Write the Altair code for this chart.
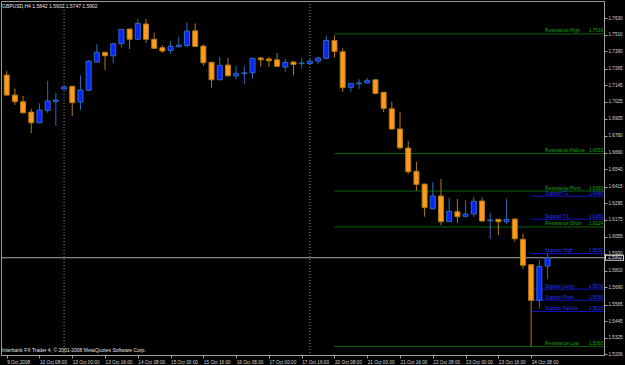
import altair as alt
import pandas as pd

# ---------------- data ----------------
symbol_title = "GBPUSD,H4  1.5842 1.5932 1.5747 1.5902"
copyright_text = "Interbank FX Trader 4, \u00a9 2001-2008 MetaQuotes Software Corp."

opens = [1.7219, 1.7075, 1.7027, 1.6952, 1.6875, 1.6965, 1.7028, 1.7118, 1.7138, 1.7025,
         1.7109, 1.7313, 1.7383, 1.7358, 1.7445, 1.7551, 1.7477, 1.7587, 1.7477, 1.7416,
         1.7397, 1.7423, 1.7433, 1.7538, 1.7428, 1.7311, 1.7185, 1.7291, 1.7214, 1.7230,
         1.7236, 1.7342, 1.7335, 1.7329, 1.7277, 1.7313, 1.7301, 1.7303, 1.7320, 1.7340,
         1.7468, 1.7387, 1.7131, 1.7156, 1.7162, 1.7185, 1.7095, 1.6976, 1.6830, 1.6693,
         1.6525, 1.6433, 1.6255, 1.6347, 1.6162, 1.6234, 1.6201, 1.6217, 1.6311, 1.6169,
         1.6179, 1.6162, 1.6181, 1.6035, 1.5852, 1.5595, 1.5842]
highs = [1.7248, 1.7123, 1.7068, 1.6976, 1.7015, 1.7178, 1.7092, 1.7140, 1.7140, 1.7217,
         1.7327, 1.7440, 1.7385, 1.7446, 1.7551, 1.7553, 1.7625, 1.7623, 1.7524, 1.7435,
         1.7464, 1.7495, 1.7599, 1.7592, 1.7440, 1.7313, 1.7349, 1.7342, 1.7284, 1.7284,
         1.7342, 1.7349, 1.7351, 1.7378, 1.7337, 1.7322, 1.7340, 1.7335, 1.7351, 1.7505,
         1.7505, 1.7412, 1.7161, 1.7188, 1.7198, 1.7187, 1.7097, 1.7027, 1.6950, 1.6743,
         1.6594, 1.6436, 1.6446, 1.6470, 1.6335, 1.6325, 1.6318, 1.6342, 1.6338, 1.6227,
         1.6181, 1.6325, 1.6185, 1.6078, 1.5857, 1.5886, 1.5932]
lows = [1.7068, 1.7003, 1.6943, 1.6801, 1.6871, 1.6947, 1.6852, 1.7111, 1.6924, 1.6967,
        1.7104, 1.7309, 1.7255, 1.7304, 1.7419, 1.7407, 1.7471, 1.7450, 1.7410, 1.7380,
        1.7373, 1.7421, 1.7419, 1.7425, 1.7286, 1.7128, 1.7183, 1.7207, 1.7190, 1.7154,
        1.7193, 1.7279, 1.7277, 1.7279, 1.7243, 1.7217, 1.7267, 1.7296, 1.7296, 1.7332,
        1.7344, 1.7097, 1.7099, 1.7120, 1.7158, 1.7080, 1.6952, 1.6828, 1.6681, 1.6506,
        1.6385, 1.6198, 1.6251, 1.6136, 1.6160, 1.6152, 1.6193, 1.6198, 1.6163, 1.6037,
        1.6066, 1.6143, 1.6018, 1.5823, 1.5263, 1.5535, 1.5747]
closes = [1.7075, 1.7027, 1.6947, 1.6875, 1.6967, 1.7032, 1.7039, 1.7133, 1.7020, 1.7111,
          1.7320, 1.7383, 1.7358, 1.7445, 1.7549, 1.7477, 1.7592, 1.7477, 1.7412, 1.7392,
          1.7426, 1.7435, 1.7536, 1.7426, 1.7308, 1.7185, 1.7289, 1.7214, 1.7231, 1.7235,
          1.7340, 1.7329, 1.7322, 1.7282, 1.7311, 1.7296, 1.7306, 1.7320, 1.7342, 1.7469,
          1.7390, 1.7128, 1.7159, 1.7162, 1.7181, 1.7087, 1.6979, 1.6830, 1.6695, 1.6522,
          1.6431, 1.6263, 1.6347, 1.6162, 1.6237, 1.6198, 1.6217, 1.6309, 1.6167, 1.6174,
          1.6162, 1.6179, 1.6039, 1.5848, 1.5595, 1.5840, 1.5902]

x_labels = ["9 Oct 2008", "10 Oct 08:00", "13 Oct 00:00", "13 Oct 16:00", "14 Oct 08:00",
            "15 Oct 00:00", "15 Oct 16:00", "16 Oct 08:00", "17 Oct 00:00", "17 Oct 16:00",
            "20 Oct 08:00", "21 Oct 00:00", "21 Oct 16:00", "22 Oct 08:00", "23 Oct 00:00",
            "23 Oct 16:00", "24 Oct 08:00"]
label_every = 4

y_ticks = [1.7630, 1.7510, 1.7390, 1.7265, 1.7145, 1.7025, 1.6905, 1.6780, 1.6660, 1.6540,
           1.6415, 1.6295, 1.6175, 1.6055, 1.5930, 1.5810, 1.5690, 1.5565, 1.5445, 1.5325,
           1.5206]

separators = [7, 37]
current_price = 1.5902

res_names = ["Resistance High", "Resistance Failure", "Resistance Pivot",
             "Resistance Short", "Resistance Low"]
res_values = [1.7516, 1.6653, 1.6383, 1.6124, 1.5263]
res_start = [40, 40, 40, 40, 40]

sup_names = ["Support  T2", "Support  T1", "Support  High", "Support  Long",
             "Support  Pivot", "Support Failure"]
sup_values = [1.6346, 1.6180, 1.5932, 1.5676, 1.5596, 1.5515]
sup_start = [64, 64, 64, 64, 64, 64]

# ---------------- styling ----------------
FONT = "Liberation Sans"
BG = "#000000"
AXIS_COL = "#A0A0A0"
TXT_COL = "#D8D8D8"
UP_FILL, UP_LINE = "#0A22FF", "#2E6DB4"
DN_FILL, DN_LINE = "#FF9A1E", "#B07A12"
RES_LINE, RES_TXT = "#0B640B", "#13A813"
SUP_LINE, SUP_TXT = "#1414C8", "#2238FF"

W, H = 603, 354

n = len(opens)
df = pd.DataFrame({"i": list(range(n)), "open": opens, "high": highs,
                   "low": lows, "close": closes})
df["dir"] = ["up" if c >= o else "down" for o, c in zip(opens, closes)]

xs = alt.Scale(domain=[-0.084, 72.28], nice=False, zero=False)
ys = alt.Scale(domain=[1.5201, 1.7753], nice=False, zero=False)

labels_js = "[" + ",".join("'" + s + "'" for s in x_labels) + "]"
x_axis = alt.Axis(values=list(range(0, label_every * len(x_labels), label_every)),
                  labelExpr=f"{labels_js}[round(datum.value / {label_every})]",
                  labelAlign="left", labelBaseline="top", labelFont=FONT,
                  labelFontSize=4.7, labelColor=TXT_COL, labelPadding=1,
                  labelFlush=False, labelOverlap=False, tickSize=3,
                  tickColor=AXIS_COL, domainColor=AXIS_COL, grid=False, title=None)
y_axis = alt.Axis(orient="right", values=y_ticks, format=".4f", labelFont=FONT,
                  labelFontSize=4.6, labelColor=TXT_COL, labelPadding=1,
                  labelFlush=False, labelOverlap=False, tickSize=3,
                  tickColor=AXIS_COL, domainColor=AXIS_COL, grid=False, title=None)

X = lambda f: alt.X(f, scale=xs, axis=x_axis)
Y = lambda f: alt.Y(f, scale=ys, axis=y_axis)

base = alt.Chart(df)

wicks_up = base.transform_filter("datum.dir == 'up'").mark_rule(
    color=UP_LINE, strokeWidth=1).encode(x=X("i:Q"), y=Y("low:Q"), y2="high:Q")
wicks_dn = base.transform_filter("datum.dir == 'down'").mark_rule(
    color=DN_LINE, strokeWidth=1).encode(x=X("i:Q"), y=Y("low:Q"), y2="high:Q")

bodies_up = base.transform_filter("datum.dir == 'up'").mark_bar(
    size=5, fill=UP_FILL, stroke=UP_LINE, strokeWidth=1).encode(
    x=X("i:Q"), y=Y("open:Q"), y2="close:Q")
bodies_dn = base.transform_filter("datum.dir == 'down'").mark_bar(
    size=5, fill=DN_FILL, stroke=DN_LINE, strokeWidth=1).encode(
    x=X("i:Q"), y=Y("open:Q"), y2="close:Q")

sep_df = pd.DataFrame({"i": separators})
seps = alt.Chart(sep_df).mark_rule(color="#8A8A8A", strokeDash=[1, 2], strokeWidth=1).encode(
    x=X("i:Q"), y=alt.value(0), y2=alt.value(H))

res_df = pd.DataFrame({"name": res_names, "value": res_values, "start": res_start})
sup_df = pd.DataFrame({"name": sup_names, "value": sup_values, "start": sup_start})


def level_layers(d, line_col, txt_col):
    c = alt.Chart(d)
    line = c.mark_rule(color=line_col, strokeWidth=1).encode(
        x=X("start:Q"), x2=alt.value(W), y=Y("value:Q"))
    name = c.mark_text(align="left", baseline="bottom", dy=-0.5, font=FONT,
                       fontSize=4.8, color=txt_col).encode(
        x=alt.value(544), y=Y("value:Q"), text="name:N")
    val = c.mark_text(align="right", baseline="bottom", dy=-0.5, font=FONT,
                      fontSize=4.6, color=txt_col).encode(
        x=alt.value(602), y=Y("value:Q"), text=alt.Text("value:Q", format=".4f"))
    return [line, name, val]


cur_df = pd.DataFrame({"p": [current_price]})
cur_line = alt.Chart(cur_df).mark_rule(color="#A8A8A8", strokeWidth=1).encode(
    x=alt.value(0), x2=alt.value(W), y=Y("p:Q"))
cur_box_outer = alt.Chart(cur_df).mark_rule(color="#D0D0D0", strokeWidth=6, strokeCap="butt").encode(
    x=alt.value(W + 1), x2=alt.value(W + 20), y=Y("p:Q"))
cur_box_inner = alt.Chart(cur_df).mark_rule(color="#000000", strokeWidth=4, strokeCap="butt").encode(
    x=alt.value(W + 2), x2=alt.value(W + 19), y=Y("p:Q"))
cur_txt = alt.Chart(cur_df).mark_text(align="left", baseline="middle", font=FONT,
                                      fontSize=4.6, color="#E8E8E8").encode(
    x=alt.value(W + 4), y=Y("p:Q"), text=alt.Text("p:Q", format=".4f"))

info_df = pd.DataFrame({"t": [symbol_title]})
info = alt.Chart(info_df).mark_text(align="left", baseline="middle", font=FONT,
                                    fontSize=5, color="#E6E6E6").encode(
    x=alt.value(1), y=alt.value(5), text="t:N")
copy_df = pd.DataFrame({"t": [copyright_text]})
copy = alt.Chart(copy_df).mark_text(align="left", baseline="middle", font=FONT,
                                    fontSize=5, color="#E6E6E6").encode(
    x=alt.value(1), y=alt.value(349), text="t:N")

layers = ([seps, cur_line] + level_layers(res_df, RES_LINE, RES_TXT)
          + level_layers(sup_df, SUP_LINE, SUP_TXT)
          + [wicks_up, wicks_dn, bodies_up, bodies_dn,
             cur_box_outer, cur_box_inner, cur_txt, info, copy])

chart = alt.layer(*layers).properties(
    width=W, height=H,
    padding={"left": 1, "top": 1, "right": 21, "bottom": 10},
    autosize=alt.AutoSizeParams(type="none"),
    background=BG,
).configure_view(stroke="#9A9A9A", fill=BG).configure_axis(labelOverlap=False)

chart.save("out.html", embed_options={"renderer": "svg", "actions": False})
